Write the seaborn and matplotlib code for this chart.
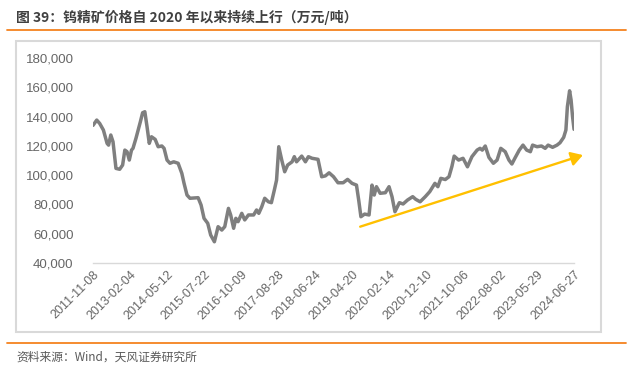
import matplotlib
matplotlib.use("Agg")
import matplotlib.pyplot as plt
import seaborn as sns
import pandas as pd
from matplotlib.patches import Rectangle
from matplotlib.lines import Line2D
from matplotlib.ticker import FuncFormatter

# observation number (category axis of the original) and price, yuan/ton
obs = [0, 5, 9, 14, 19, 21, 24, 27, 31, 36, 40, 43, 46, 49, 52, 54, 58, 61, 64, 67,
       70, 73, 76, 79, 84, 88, 93, 96, 100, 104, 109, 115, 120, 123, 127, 131, 142, 146, 150, 155,
       159, 164, 169, 174, 178, 183, 186, 190, 193, 196, 201, 205, 210, 217, 221, 224, 228, 232, 237, 241,
       245, 248, 251, 255, 259, 263, 269, 272, 275, 282, 287, 291, 296, 304, 309, 314, 319, 325, 331, 338,
       344, 350, 356, 359, 362, 367, 373, 377, 380, 383, 388, 395, 400, 404, 408, 414, 419, 425, 432, 436,
       442, 449, 455, 462, 466, 470, 476, 481, 485, 488, 494, 500, 506, 512, 519, 523, 526, 530, 535, 541,
       546, 551, 557, 562, 566, 570, 576, 581, 586, 591, 594, 600, 606, 611, 615, 621, 627, 631, 636, 639,
       641, 644, 646, 648, 650]
price = [134000, 137600, 135300, 130800, 121700, 120500, 127400, 122800, 104600, 104000,
         106900, 117100, 116000, 110300, 117100, 118300, 125100, 130800, 136500, 142600,
         143300, 133000, 121700, 126200, 124400, 119400, 119900, 118300, 110300, 108100,
         109100, 108100, 101200, 94400, 86400, 84200, 84600, 79600, 70500, 67100,
         59100, 54500, 64800, 62500, 64800, 77300, 72800, 63700, 70500, 68200,
         73900, 69400, 72800, 72800, 76200, 73900, 78400, 84200, 81800, 81200,
         89800, 96600, 119400, 110300, 102300, 106900, 109100, 112600, 109100, 113000,
         109100, 112600, 111500, 110800, 98900, 99500, 101600, 98900, 94800, 94800,
         97100, 94400, 93200, 83000, 71600, 73400, 72800, 93200, 86400, 92100,
         87600, 88000, 92100, 85300, 75000, 81200, 80300, 83000, 85300, 83500,
         81800, 85300, 88700, 94400, 92100, 97800, 97000, 98900, 106000, 113000,
         110300, 111500, 105700, 112600, 117100, 118300, 117100, 119900, 112100, 108100,
         110300, 118300, 116000, 110300, 107600, 111500, 117100, 120500, 117100, 116000,
         120500, 119400, 119900, 118300, 120500, 119000, 120500, 122100, 125800, 130800,
         146700, 157600, 151300, 139900, 131300]

tick_pos = [0, 50, 100, 150, 200, 250, 300, 350, 400, 450, 500, 550, 600, 650]
tick_labels = ["2011-11-08", "2013-02-04", "2014-05-12", "2015-07-22", "2016-10-09",
               "2017-08-28", "2018-06-24", "2019-04-20", "2020-02-14", "2020-12-10",
               "2021-10-06", "2022-08-02", "2023-05-29", "2024-06-27"]

# trend arrow (start, end) in data units
arrow_obs = [361, 662]
arrow_val = [64800, 113700]

title = "图 39：钨精矿价格自 2020 年以来持续上行（万元/吨）"
source = "资料来源：Wind，天风证券研究所"

df = pd.DataFrame({"obs": obs, "price": price})

sns.set_style("white")
plt.rcParams["font.family"] = ["Liberation Sans", "Noto Sans CJK SC", "DejaVu Sans"]

fig = plt.figure(figsize=(6.35, 3.67), dpi=100)
ax = fig.add_axes([0.1465, 0.2834, 0.904 - 0.1465, 0.842 - 0.2834])

sns.lineplot(data=df, x="obs", y="price", ax=ax, color="#7F7F7F", linewidth=2.5)

ax.set_xlim(0, 650)
ax.set_ylim(40000, 180000)
ax.set_yticks([40000, 60000, 80000, 100000, 120000, 140000, 160000, 180000])
ax.yaxis.set_major_formatter(FuncFormatter(lambda v, p: f"{int(v):,}"))
ax.set_xticks(tick_pos)
ax.set_xticklabels(tick_labels, rotation=45, ha="right", rotation_mode="anchor")
ax.tick_params(axis="y", length=0, pad=14, labelsize=9.5, labelcolor="#666666")
ax.tick_params(axis="x", length=0, pad=4, labelsize=9, labelcolor="#666666")
ax.set_xlabel("")
ax.set_ylabel("")
for s in ["top", "right", "left"]:
    ax.spines[s].set_visible(False)
ax.spines["bottom"].set_color("#D9D9D9")
ax.spines["bottom"].set_linewidth(1.0)

ax.annotate("", xy=(arrow_obs[1], arrow_val[1]), xytext=(arrow_obs[0], arrow_val[0]),
            arrowprops=dict(arrowstyle="-|>,head_length=0.5,head_width=0.3", color="#FFC000",
                            lw=1.7, mutation_scale=14, shrinkA=0, shrinkB=0),
            annotation_clip=False)

# frame around the chart and orange rules
W, H = 635, 367
fig.patches.append(Rectangle((15.5 / W, 1 - 332 / H), (601 - 15.5) / W, (332 - 40.5) / H,
                             transform=fig.transFigure, fill=False,
                             edgecolor="#D9D9D9", linewidth=1.5))
for yy in [30, 342.7]:
    fig.lines.append(Line2D([7 / W, 626 / W], [1 - yy / H, 1 - yy / H],
                            transform=fig.transFigure, color="#F5821F", linewidth=1.3))

fig.text(16 / W, 1 - 17.7 / H, title, ha="left", va="center", fontsize=10,
         fontweight="bold", color="#404040",
         family=["Noto Sans CJK SC", "DejaVu Sans"])
fig.text(16 / W, 1 - 357 / H, source, ha="left", va="center", fontsize=8.5,
         color="#595959", family=["Noto Sans CJK SC", "DejaVu Sans"])

plt.savefig("out.png", dpi=100)
